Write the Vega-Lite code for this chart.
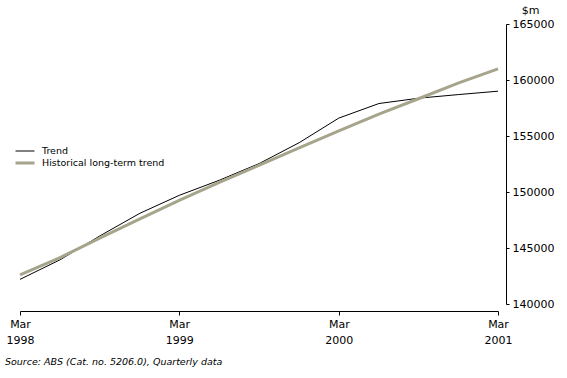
{
  "$schema": "https://vega.github.io/schema/vega-lite/v6.json",
  "autosize": {"type": "none"},
  "width": 478,
  "height": 280,
  "padding": {"left": 20, "top": 24, "right": 69, "bottom": 74},
  "background": "white",
  "config": {
    "view": {"stroke": null},
    "font": "DejaVu Sans",
    "axis": {"labelFont": "DejaVu Sans", "labelFontSize": 11, "labelColor": "black", "domainColor": "black", "tickColor": "black", "grid": false},
    "legend": {"labelFont": "DejaVu Sans", "labelFontSize": 9.5, "labelColor": "black"}
  },
  "title": {
    "text": "Source: ABS (Cat. no. 5206.0), Quarterly data",
    "orient": "bottom",
    "anchor": "start",
    "frame": "group",
    "font": "DejaVu Sans",
    "fontSize": 9.5,
    "fontStyle": "italic",
    "fontWeight": "normal",
    "color": "black",
    "dx": -15,
    "offset": 12
  },
  "data": {
    "values": [
      {"date": "1998-03-01", "series": "Trend", "value": 142200},
      {"date": "1998-06-01", "series": "Trend", "value": 143950},
      {"date": "1998-09-01", "series": "Trend", "value": 146100},
      {"date": "1998-12-01", "series": "Trend", "value": 148100},
      {"date": "1999-03-01", "series": "Trend", "value": 149700},
      {"date": "1999-06-01", "series": "Trend", "value": 151050},
      {"date": "1999-09-01", "series": "Trend", "value": 152550},
      {"date": "1999-12-01", "series": "Trend", "value": 154400},
      {"date": "2000-03-01", "series": "Trend", "value": 156600},
      {"date": "2000-06-01", "series": "Trend", "value": 157900},
      {"date": "2000-09-01", "series": "Trend", "value": 158380},
      {"date": "2000-12-01", "series": "Trend", "value": 158700},
      {"date": "2001-03-01", "series": "Trend", "value": 159000},
      {"date": "1998-03-01", "series": "Historical long-term trend", "value": 142600},
      {"date": "1998-06-01", "series": "Historical long-term trend", "value": 144150},
      {"date": "1998-09-01", "series": "Historical long-term trend", "value": 145900},
      {"date": "1998-12-01", "series": "Historical long-term trend", "value": 147600},
      {"date": "1999-03-01", "series": "Historical long-term trend", "value": 149250},
      {"date": "1999-06-01", "series": "Historical long-term trend", "value": 150850},
      {"date": "1999-09-01", "series": "Historical long-term trend", "value": 152400},
      {"date": "1999-12-01", "series": "Historical long-term trend", "value": 153950},
      {"date": "2000-03-01", "series": "Historical long-term trend", "value": 155450},
      {"date": "2000-06-01", "series": "Historical long-term trend", "value": 156950},
      {"date": "2000-09-01", "series": "Historical long-term trend", "value": 158350},
      {"date": "2000-12-01", "series": "Historical long-term trend", "value": 159750},
      {"date": "2001-03-01", "series": "Historical long-term trend", "value": 161000}
    ]
  },
  "mark": {"type": "line", "interpolate": "linear"},
  "encoding": {
    "x": {
      "field": "date",
      "type": "temporal",
      "scale": {"type": "utc", "domain": [{"year": 1998, "month": 3, "date": 1, "utc": true}, {"year": 2001, "month": 3, "date": 1, "utc": true}], "nice": false},
      "axis": {
        "title": null,
        "offset": 7,
        "tickSize": 4,
        "labelPadding": 3,
        "labelLineHeight": 16,
        "labelBaseline": "top",
        "values": [
          {"year": 1998, "month": 3, "date": 1, "utc": true},
          {"year": 1999, "month": 3, "date": 1, "utc": true},
          {"year": 2000, "month": 3, "date": 1, "utc": true},
          {"year": 2001, "month": 3, "date": 1, "utc": true}
        ],
        "labelExpr": "[utcFormat(datum.value, '%b'), utcFormat(datum.value, '%Y')]",
        "labelFlush": false,
        "labelOverlap": false
      }
    },
    "y": {
      "field": "value",
      "type": "quantitative",
      "scale": {"domain": [140000, 165000], "nice": false, "zero": false},
      "axis": {
        "orient": "right",
        "offset": 8,
        "tickSize": 3,
        "labelPadding": 3,
        "values": [140000, 145000, 150000, 155000, 160000, 165000],
        "format": "d",
        "title": "$m",
        "titleAngle": 0,
        "titleFont": "DejaVu Sans",
        "titleFontSize": 11,
        "titleFontWeight": "normal",
        "titleColor": "black",
        "titleAlign": "center",
        "titleBaseline": "middle",
        "titleX": 24,
        "titleY": -14
      }
    },
    "color": {
      "field": "series",
      "type": "nominal",
      "scale": {"domain": ["Trend", "Historical long-term trend"], "range": ["#000000", "#a6a48b"]},
      "legend": {
        "title": null,
        "orient": "none",
        "legendX": -6,
        "legendY": 121,
        "symbolType": "stroke",
        "symbolSize": 361,
        "symbolStrokeWidth": 2,
        "labelOffset": 6,
        "clipHeight": 12,
        "rowPadding": 0
      }
    },
    "strokeWidth": {
      "field": "series",
      "type": "nominal",
      "scale": {"domain": ["Trend", "Historical long-term trend"], "range": [1, 3]},
      "legend": null
    },
    "order": {"field": "series", "sort": "ascending"}
  }
}
